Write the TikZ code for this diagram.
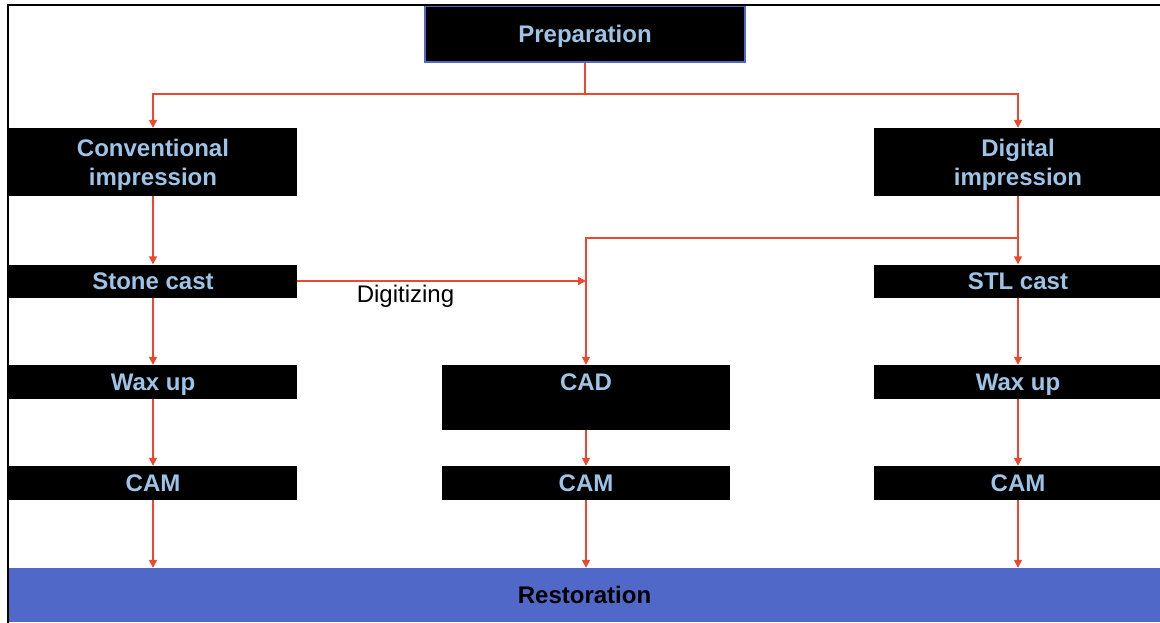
\documentclass[tikz,border=0pt]{standalone}
\usepackage{fontspec}
\setmainfont{Liberation Sans}
\usetikzlibrary{arrows.meta}
\definecolor{boxtext}{HTML}{9DC3E6}
\definecolor{arrowred}{HTML}{F0462D}
\definecolor{restblue}{HTML}{5069C8}
\tikzset{
  blk/.style={fill=black, text=boxtext, font=\fontsize{24}{29}\selectfont\bfseries, align=center, inner sep=0pt, text depth=0pt, minimum width=288pt},
  arr/.style={draw=arrowred, line width=1.4pt, -{Triangle[length=8pt,width=8pt]}},
  ln/.style={draw=arrowred, line width=1.4pt}
}
\begin{document}
\begin{tikzpicture}[x=1pt,y=-1pt]
\useasboundingbox (0,0) rectangle (1160,623);
\node[blk, minimum width=320pt, minimum height=56pt, draw=restblue, line width=1.5pt] (prep) at (585,34){Preparation};
\node[blk, minimum height=68pt] (conv) at (153,162){Conventional\\impression};
\node[blk, minimum height=68pt] (digi) at (1018,162){Digital\\impression};
\node[blk, minimum height=33pt] (stone) at (153,281){Stone cast};
\node[blk, minimum height=33pt] (stl) at (1018,281){STL cast};
\node[blk, minimum height=34pt] (waxl) at (153,382){Wax up};
\node[blk, minimum height=34pt] (waxr) at (1018,382){Wax up};
\node[blk, minimum height=65pt, text depth=31pt] (cad) at (586,397.5){CAD};
\node[blk, minimum height=34pt] (caml) at (153,483){CAM};
\node[blk, minimum height=34pt] (camm) at (586,483){CAM};
\node[blk, minimum height=34pt] (camr) at (1018,483){CAM};
\node[fill=restblue, minimum width=1151pt, minimum height=54pt, inner sep=0pt, text depth=0pt, font=\fontsize{24}{29}\selectfont\bfseries] (rest) at (584.5,595){Restoration};
\coordinate (split) at (585,94);
\coordinate (branch) at (1018,238);
\coordinate (join) at (586,281);
\draw[ln] (prep.south) -- (split);
\draw[arr] (split) -| (conv.north);
\draw[arr] (split) -| (digi.north);
\draw[arr] (conv) -- (stone);
\draw[arr] (stone) -- (waxl);
\draw[arr] (waxl) -- (caml);
\draw[arr] (caml) -- (caml|-rest.north);
\draw[arr] (digi) -- (stl);
\draw[arr] (stl) -- (waxr);
\draw[arr] (waxr) -- (camr);
\draw[arr] (camr) -- (camr|-rest.north);
\draw[arr] (branch) -| (cad.north);
\draw[arr] (stone.east) -- node[below, pos=0.375, font=\fontsize{24}{29}\selectfont] (digitizing) {Digitizing} (join);
\draw[arr] (cad) -- (camm);
\draw[arr] (camm) -- (camm|-rest.north);
\draw[line width=2pt] (8,623) -- (8,5) -- (1160,5);
\end{tikzpicture}
\end{document}
